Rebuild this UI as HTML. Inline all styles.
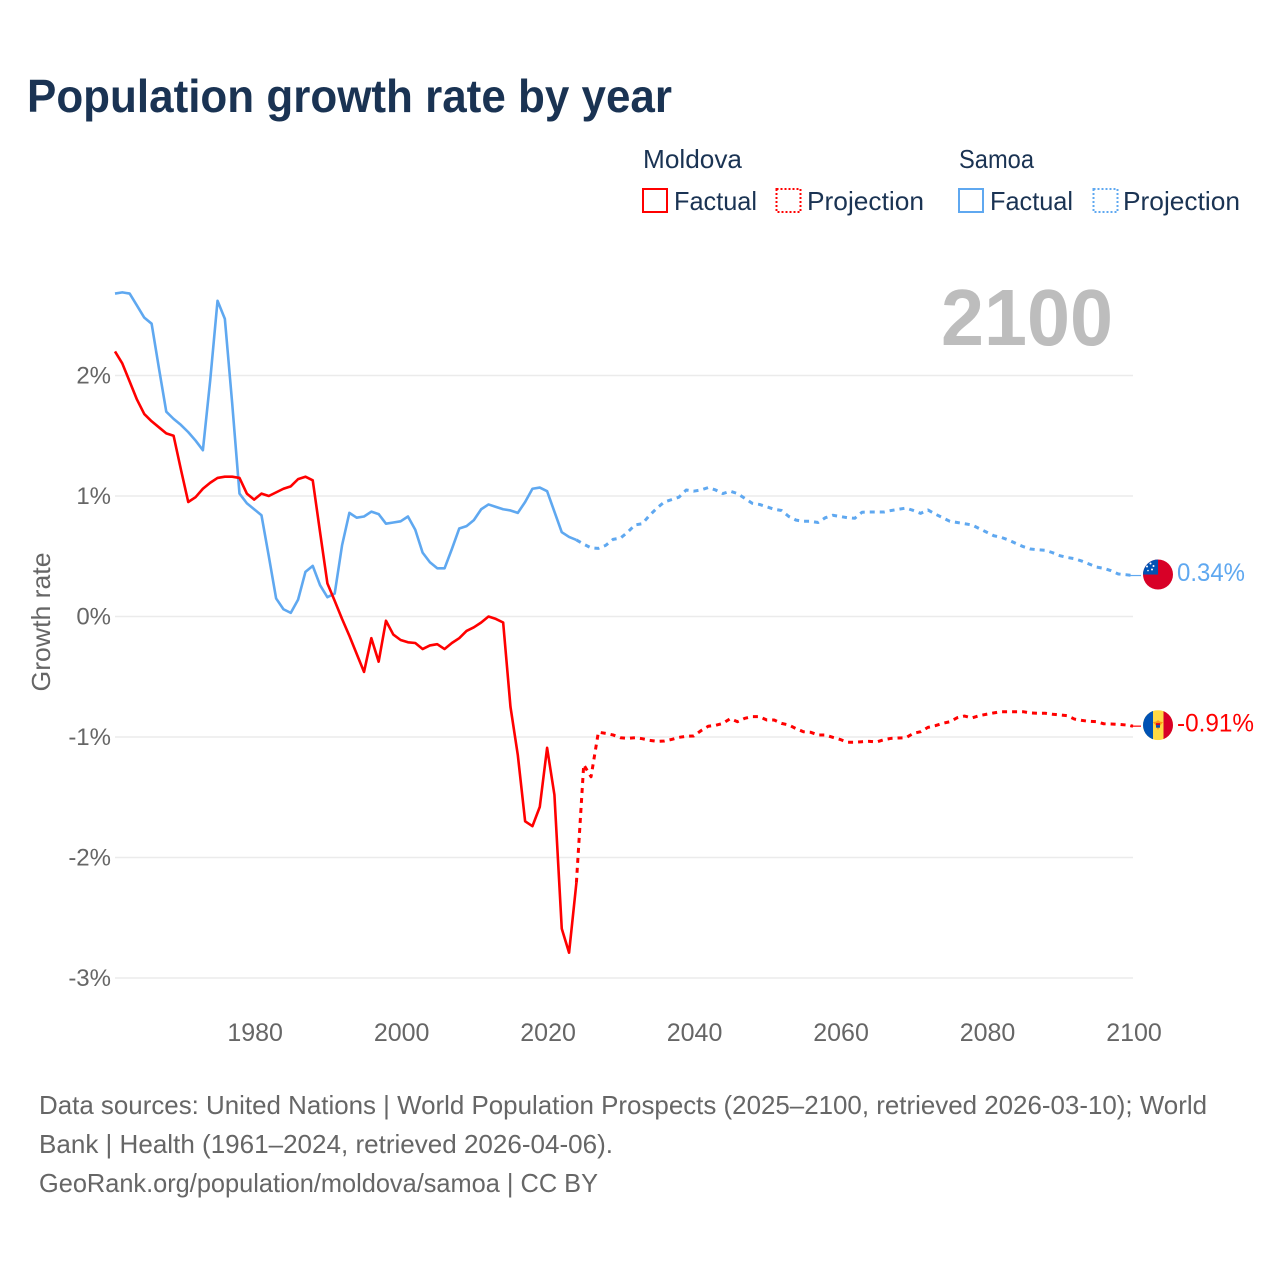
<!DOCTYPE html>
<html lang="en">
<head>
<meta charset="utf-8">
<title>Population growth rate by year</title>
<style>
html,body{margin:0;padding:0;background:#fff;}
svg{display:block;font-family:"Liberation Sans",sans-serif;}
</style>
</head>
<body>
<svg id="chart" xmlns="http://www.w3.org/2000/svg" width="1280" height="1280" viewBox="0 0 1280 1280">
<rect x="0" y="0" width="1280" height="1280" fill="#ffffff"/>
<text x="27" y="112" font-size="46" font-weight="700" fill="#1a3353" textLength="645" lengthAdjust="spacingAndGlyphs">Population growth rate by year</text>

<g font-size="26" fill="#1a3353">
<text x="643" y="168" font-size="26" textLength="99" lengthAdjust="spacingAndGlyphs">Moldova</text>
<text x="959" y="168" font-size="26" textLength="75" lengthAdjust="spacingAndGlyphs">Samoa</text>
<rect x="643" y="189" width="24" height="23" fill="none" stroke="#ff0000" stroke-width="2"/>
<text x="674" y="210" textLength="83" lengthAdjust="spacingAndGlyphs">Factual</text>
<rect x="776.5" y="189" width="24" height="23" fill="none" stroke="#ff0000" stroke-width="2" stroke-dasharray="2 2"/>
<text x="807" y="210" textLength="117" lengthAdjust="spacingAndGlyphs">Projection</text>
<rect x="959" y="189" width="24" height="23" fill="none" stroke="#5fa8f0" stroke-width="2"/>
<text x="990" y="210" textLength="83" lengthAdjust="spacingAndGlyphs">Factual</text>
<rect x="1093.5" y="189" width="24" height="23" fill="none" stroke="#5fa8f0" stroke-width="2" stroke-dasharray="2 2"/>
<text x="1123" y="210" textLength="117" lengthAdjust="spacingAndGlyphs">Projection</text>
</g>

<g id="grid"></g>
<g id="yticks"></g>
<g id="xticks"></g>

<text x="941" y="345" font-size="80" font-weight="700" fill="#bdbdbd" textLength="172" lengthAdjust="spacingAndGlyphs">2100</text>
<text transform="translate(50,622) rotate(-90)" text-anchor="middle" font-size="26" fill="#666666" textLength="139" lengthAdjust="spacingAndGlyphs">Growth rate</text>

<g id="series"></g>

<g id="flag-samoa">
<clipPath id="clip-samoa"><circle cx="0" cy="0" r="15"/></clipPath>
<g clip-path="url(#clip-samoa)">
<rect x="-15" y="-15" width="30" height="30" fill="#d80027"/>
<rect x="-15" y="-15" width="15" height="15" fill="#0052b4"/>
<circle cx="-7.5" cy="-11" r="1" fill="#fff"/><circle cx="-11" cy="-8" r="1" fill="#fff"/><circle cx="-4.5" cy="-8.5" r="1" fill="#fff"/><circle cx="-6" cy="-5" r="1" fill="#fff"/><circle cx="-10" cy="-4" r="0.8" fill="#fff"/>
</g>
</g>
<g id="flag-moldova">
<clipPath id="clip-moldova"><circle cx="0" cy="0" r="15"/></clipPath>
<g clip-path="url(#clip-moldova)">
<rect x="-15" y="-15" width="30" height="30" fill="#ffda44"/>
<rect x="-15" y="-15" width="10" height="30" fill="#0052b4"/>
<rect x="5.5" y="-15" width="10" height="30" fill="#d80027"/>
<path d="M-5 -3 L-2 -3.5 L0 -5 L2 -3.5 L5 -3 L2.5 0 L0 5 L-2.5 0 Z" fill="#ff9811"/>
<rect x="-2" y="-2" width="4" height="2" fill="#d80027"/><rect x="-2" y="0" width="4" height="2.5" fill="#0052b4"/>
</g>
</g>
<text id="label-samoa" x="1177" font-size="25" fill="#5fa8f0" textLength="68" lengthAdjust="spacingAndGlyphs"></text>
<text id="label-moldova" x="1177" font-size="25" fill="#ff0000" textLength="77" lengthAdjust="spacingAndGlyphs"></text>

<g font-size="26" fill="#666666">
<text x="39" y="1114" textLength="1168" lengthAdjust="spacingAndGlyphs">Data sources: United Nations | World Population Prospects (2025–2100, retrieved 2026-03-10); World</text>
<text x="39" y="1153" textLength="574" lengthAdjust="spacingAndGlyphs">Bank | Health (1961–2024, retrieved 2026-04-06).</text>
<text x="39" y="1192" textLength="559" lengthAdjust="spacingAndGlyphs">GeoRank.org/population/moldova/samoa | CC BY</text>
</g>
</svg>

<script>
const firstYear = 1961;
const lastFactualYear = 2024;
const xTickLabels = [1980, 2000, 2020, 2040, 2060, 2080, 2100];
const yTickLabels = [2, 1, 0, -1, -2, -3];

const moldovaFactual = [2.20,2.10,1.95,1.80,1.68,1.62,1.57,1.52,1.50,1.22,0.95,0.99,1.06,1.11,1.15,1.16,1.16,1.15,1.02,0.97,1.02,1.00,1.03,1.06,1.08,1.14,1.16,1.13,0.70,0.275,0.13,-0.02,-0.16,-0.31,-0.46,-0.18,-0.375,-0.035,-0.15,-0.195,
-0.214,-0.22,-0.27,-0.24,-0.23,-0.27,-0.22,-0.18,-0.12,-0.09,-0.05,0,-0.02,-0.05,-0.75,-1.15,-1.70,-1.74,-1.58,-1.09,-1.48,-2.59,-2.79,-2.21];

const moldovaProjection = [-1.23,-1.33,-0.96,-0.97,-0.983,-1.006,-1.011,-1.006,-1.014,-1.028,-1.036,-1.033,-1.02,-1.003,-0.994,-0.992,-0.948,-0.911,-0.903,-0.887,-0.848,-0.873,-0.845,-0.831,-0.831,-0.859,-0.859,-0.887,-0.90,-0.931,-0.956,-0.961,-0.983,-0.983,-1.003,-1.02,-1.044,-1.044,-1.039,-1.036,-1.041,-1.022,-1.011,-1.008,-1.006,-0.97,-0.956,-0.92,-0.906,-0.887,-0.873,-0.84,-0.826,-0.842,-0.823,-0.811,-0.80,-0.79,-0.79,-0.79,-0.79,-0.80,-0.803,-0.803,-0.811,-0.817,-0.823,-0.851,-0.862,-0.87,-0.873,-0.89,-0.892,-0.895,-0.90,-0.91];

const samoaFactual = [2.68,2.69,2.68,2.58,2.48,2.43,2.06,1.70,1.64,1.59,1.53,1.46,1.38,1.96,2.62,2.47,1.77,1.02,0.94,0.89,0.84,0.50,0.15,0.06,0.03,0.14,0.37,0.42,0.26,0.16,0.19,0.59,0.86,0.82,0.83,0.87,0.85,0.77,0.78,0.79,
0.83,0.72,0.53,0.45,0.40,0.40,0.56,0.73,0.75,0.80,0.89,0.93,0.91,0.89,0.88,0.86,0.95,1.06,1.07,1.04,0.87,0.70,0.66,0.635];

const samoaProjection = [0.60,0.57,0.565,0.59,0.64,0.65,0.70,0.76,0.77,0.84,0.90,0.95,0.97,0.99,1.05,1.04,1.05,1.07,1.05,1.02,1.04,1.02,0.98,0.94,0.93,0.91,0.89,0.88,0.83,0.80,0.79,0.79,0.78,0.82,0.84,0.83,0.82,0.815,0.865,0.867,0.867,0.867,0.88,0.89,0.90,0.88,0.856,0.884,0.85,0.82,0.79,0.78,0.77,0.76,0.73,0.70,0.67,0.657,0.635,0.607,0.58,0.56,0.554,0.55,0.53,0.505,0.49,0.48,0.46,0.436,0.41,0.40,0.38,0.353,0.347,0.34];

const NS = 'http://www.w3.org/2000/svg';
function xScale(year) { return 115 + (year - 1961) * (1133 - 115) / (2100 - 1961); }
function yScale(value) { return 616.5 - value * 120.5; }

const gridLayer = document.getElementById('grid');
const yTickLayer = document.getElementById('yticks');
const xTickLayer = document.getElementById('xticks');
const seriesLayer = document.getElementById('series');

yTickLabels.forEach(function (tick) {
  const line = document.createElementNS(NS, 'line');
  
  
  line.setAttribute('x1', 115);
  line.setAttribute('x2', 1133);
  line.setAttribute('y1', yScale(tick));
  line.setAttribute('y2', yScale(tick));
  line.setAttribute('stroke', '#ebebeb');
  line.setAttribute('stroke-width', 1.5);
  gridLayer.appendChild(line);

  const label = document.createElementNS(NS, 'text');
  
  
  label.setAttribute('x', 111);
  label.setAttribute('y', yScale(tick) + 8);
  label.setAttribute('text-anchor', 'end');
  label.setAttribute('font-size', 24);
  label.setAttribute('fill', '#666666');
  label.textContent = tick + '%';
  yTickLayer.appendChild(label);
});

xTickLabels.forEach(function (tick) {
  const label = document.createElementNS(NS, 'text');
  
  
  label.setAttribute('x', xScale(tick) + 1);
  label.setAttribute('y', 1041);
  label.setAttribute('text-anchor', 'middle');
  label.setAttribute('font-size', 25);
  label.setAttribute('fill', '#666666');
  label.textContent = tick;
  xTickLayer.appendChild(label);
});

function toPath(startYear, values) {
  return values.map(function (v, i) {
    return (i ? 'L' : 'M') + xScale(startYear + i).toFixed(2) + ' ' + yScale(v).toFixed(2);
  }).join(' ');
}

function drawLine(name, d, color, dashed) {
  const path = document.createElementNS(NS, 'path');
  
  
  path.setAttribute('d', d);
  path.setAttribute('fill', 'none');
  path.setAttribute('stroke', color);
  path.setAttribute('stroke-width', dashed ? 3 : 2.6);
  path.setAttribute('stroke-linejoin', 'round');
  if (dashed) path.setAttribute('stroke-dasharray', '5 5');
  seriesLayer.appendChild(path);
}

const BLUE = '#5fa8f0';
const RED = '#ff0000';
const lastSamoaFactual = samoaFactual[samoaFactual.length - 1];
const lastMoldovaFactual = moldovaFactual[moldovaFactual.length - 1];
const endSamoa = samoaProjection[samoaProjection.length - 1];
const endMoldova = moldovaProjection[moldovaProjection.length - 1];

drawLine('samoa-factual-line', toPath(firstYear, samoaFactual), BLUE, false);
drawLine('samoa-projection-line', toPath(lastFactualYear, [lastSamoaFactual].concat(samoaProjection)), BLUE, true);
drawLine('moldova-factual-line', toPath(firstYear, moldovaFactual), RED, false);
drawLine('moldova-projection-line', toPath(lastFactualYear, [lastMoldovaFactual].concat(moldovaProjection)), RED, true);

function drawLeader(name, value, color) {
  const line = document.createElementNS(NS, 'line');
  
  
  line.setAttribute('x1', 1130);
  line.setAttribute('x2', 1141);
  line.setAttribute('y1', yScale(value));
  line.setAttribute('y2', yScale(value));
  line.setAttribute('stroke', color);
  line.setAttribute('stroke-width', 1.2);
  seriesLayer.appendChild(line);
}
drawLeader('samoa-leader-line', endSamoa, BLUE);
drawLeader('moldova-leader-line', endMoldova, RED);

document.getElementById('flag-samoa').setAttribute('transform', 'translate(1158,' + (yScale(endSamoa) - 1) + ')');
document.getElementById('flag-moldova').setAttribute('transform', 'translate(1158,' + (yScale(endMoldova) - 1) + ')');
const labelSamoa = document.getElementById('label-samoa');
labelSamoa.setAttribute('y', yScale(endSamoa) + 5.5);
labelSamoa.textContent = endSamoa.toFixed(2) + '%';
const labelMoldova = document.getElementById('label-moldova');
labelMoldova.setAttribute('y', yScale(endMoldova) + 5.5);
labelMoldova.textContent = endMoldova.toFixed(2) + '%';
</script>
</body>
</html>
